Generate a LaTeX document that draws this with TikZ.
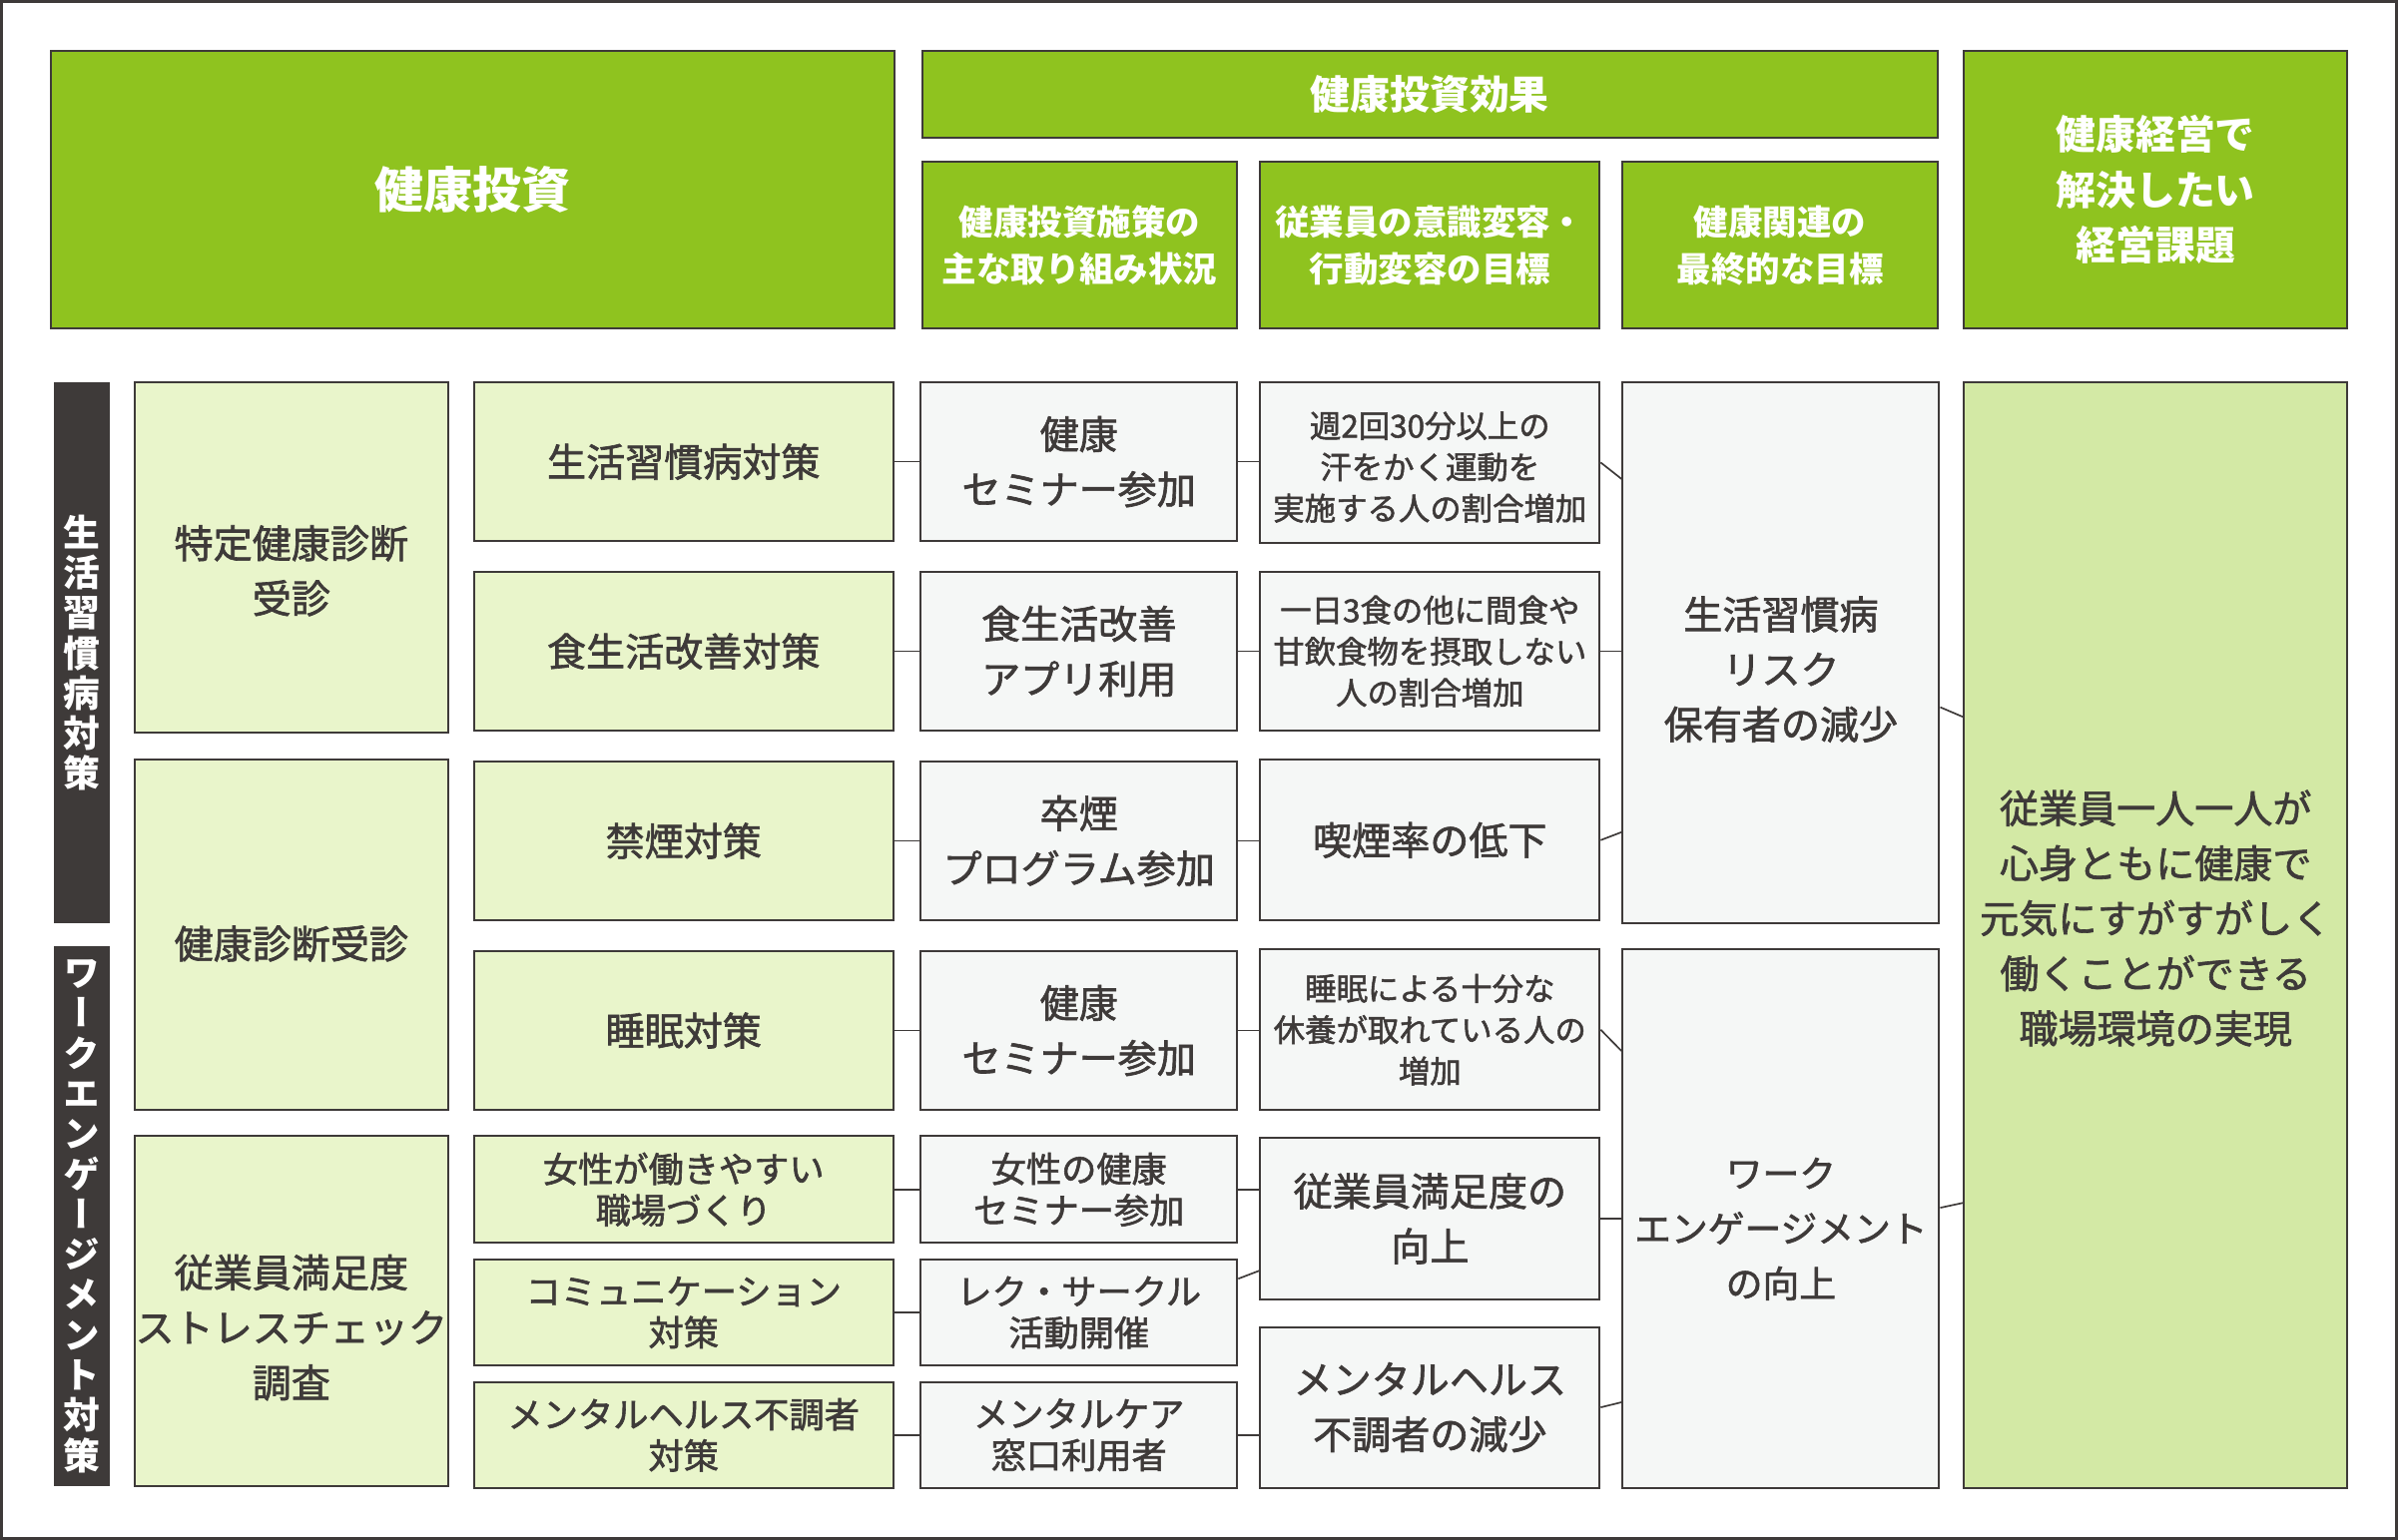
\documentclass[tikz,border=0pt]{standalone}
\usepackage{fontspec}
\setmainfont{Noto Sans CJK JP}
\newfontfamily\bodyjp{Noto Sans CJK JP}[FakeBold=1.6]
\newfontfamily\vertjp{Noto Sans CJK JP}[RawFeature=+vert]
\usetikzlibrary{calc}
\definecolor{leafgreen}{HTML}{8FC31F}
\definecolor{palegreen}{HTML}{E9F5CB}
\definecolor{softgreen}{HTML}{D3E9A5}
\definecolor{paper}{HTML}{F5F7F6}
\definecolor{ink}{HTML}{3E3A39}

\begin{document}
\begin{tikzpicture}[x=1pt, y=-1pt,
    every node/.style={align=center, inner sep=0pt, text=ink},
    head/.style={draw=ink, line width=1.3pt, fill=leafgreen, text=white,
                 font=\bfseries\fontsize{22.5}{31}\selectfont},
    sidebar/.style={fill=ink, text=white, minimum width=37pt,
                    font=\vertjp\bfseries\fontsize{24}{26.3}\selectfont},
    item/.style={draw=ink, line width=1.3pt, fill=palegreen},
    goal/.style={draw=ink, line width=1.3pt, fill=paper},
    big/.style={font=\bodyjp\fontsize{25.5}{36}\selectfont},
    small/.style={font=\bodyjp\fontsize{23}{27}\selectfont},
    tiny/.style={font=\bodyjp\fontsize{20.5}{27}\selectfont},
    link/.style={draw=ink, line width=1.1pt}
]
    \useasboundingbox (0,0) rectangle (1568,1007);
    \draw[ink, line width=2pt] (1,1) rectangle (1567,1006);

    \node[head, minimum width=552pt, minimum height=182pt,
          font=\bfseries\fontsize{32}{36}\selectfont] (inv) at (309,124) {健康投資};
    \node[head, minimum width=664pt, minimum height=57pt,
          font=\bfseries\fontsize{26}{36}\selectfont] (eff) at (935,61.5) {健康投資効果};
    \node[head, minimum width=206pt, minimum height=109pt] (h1) at (706,160.5)
        {健康投資施策の\\主な取り組み状況};
    \node[head, minimum width=222pt, minimum height=109pt] (h2) at (935,160.5)
        {従業員の意識変容・\\行動変容の目標};
    \node[head, minimum width=206pt, minimum height=109pt] (h3) at (1164,160.5)
        {健康関連の\\最終的な目標};
    \node[head, minimum width=251pt, minimum height=182pt,
          font=\bfseries\fontsize{26}{36}\selectfont] (issue) at (1409.5,124)
        {健康経営で\\解決したい\\経営課題};

    \node[sidebar, minimum height=354pt] (bar1) at (53.5,427)
        {生\\活\\習\\慣\\病\\対\\策};
    \node[sidebar, minimum height=353pt] (bar2) at (53.5,795.5)
        {ワ\\ー\\ク\\エ\\ン\\ゲ\\ー\\ジ\\メ\\ン\\ト\\対\\策};

    \node[item, big, minimum width=205pt, minimum height=229pt] (a1) at (190.5,364.5)
        {\rule{0pt}{39pt}特定健康診断\\受診};
    \node[item, big, minimum width=205pt, minimum height=229pt] (a2) at (190.5,611.5)
        {\rule{0pt}{33pt}健康診断受診};
    \node[item, big, minimum width=205pt, minimum height=229pt] (a3) at (190.5,857.5)
        {\rule{0pt}{43pt}従業員満足度\\ストレスチェック\\調査};

    \node[item, big, minimum width=274pt, minimum height=104pt] (b1) at (447,302) {生活習慣病対策};
    \node[item, big, minimum width=274pt, minimum height=104pt] (b2) at (447,426) {食生活改善対策};
    \node[item, big, minimum width=274pt, minimum height=104pt] (b3) at (447,550) {禁煙対策};
    \node[item, big, minimum width=274pt, minimum height=104pt] (b4) at (447,674) {睡眠対策};
    \node[item, small, minimum width=274pt, minimum height=70pt] (b5) at (447,778)
        {女性が働きやすい\\職場づくり};
    \node[item, small, minimum width=274pt, minimum height=69pt] (b6) at (447,858.5)
        {コミュニケーション\\対策};
    \node[item, small, minimum width=274pt, minimum height=69pt] (b7) at (447,938.5)
        {メンタルヘルス不調者\\対策};

    \node[goal, big, minimum width=207pt, minimum height=104pt] (c1) at (705.5,302)
        {健康\\セミナー参加};
    \node[goal, big, minimum width=207pt, minimum height=104pt] (c2) at (705.5,426)
        {食生活改善\\アプリ利用};
    \node[goal, big, minimum width=207pt, minimum height=104pt] (c3) at (705.5,550)
        {卒煙\\プログラム参加};
    \node[goal, big, minimum width=207pt, minimum height=104pt] (c4) at (705.5,674)
        {健康\\セミナー参加};
    \node[goal, small, minimum width=207pt, minimum height=70pt] (c5) at (705.5,778)
        {女性の健康\\セミナー参加};
    \node[goal, small, minimum width=207pt, minimum height=69pt] (c6) at (705.5,858.5)
        {レク・サークル\\活動開催};
    \node[goal, small, minimum width=207pt, minimum height=69pt] (c7) at (705.5,938.5)
        {メンタルケア\\窓口利用者};

    \node[goal, tiny, minimum width=222pt, minimum height=105pt] (d1) at (935,302.5)
        {\rule{0pt}{23pt}週2回30分以上の\\汗をかく運動を\\実施する人の割合増加};
    \node[goal, tiny, minimum width=222pt, minimum height=104pt] (d2) at (935,426)
        {一日3食の他に間食や\\甘飲食物を摂取しない\\人の割合増加};
    \node[goal, big, minimum width=222pt, minimum height=105pt] (d3) at (935,549.5)
        {喫煙率の低下};
    \node[goal, tiny, minimum width=222pt, minimum height=105pt] (d4) at (935,673.5)
        {睡眠による十分な\\休養が取れている人の\\増加};
    \node[goal, big, minimum width=222pt, minimum height=106pt] (d5) at (935,797)
        {従業員満足度の\\向上};
    \node[goal, big, minimum width=222pt, minimum height=105pt] (d6) at (935,920.5)
        {メンタルヘルス\\不調者の減少};

    \node[goal, big, minimum width=207pt, minimum height=354pt] (e1) at (1164.5,427)
        {\rule{0pt}{43pt}生活習慣病\\リスク\\保有者の減少};
    \node[goal, big, minimum width=207pt, minimum height=352pt,
          font=\bodyjp\fontsize{24}{36}\selectfont] (e2) at (1164.5,797)
        {\rule{0pt}{33pt}ワーク\\エンゲージメント\\の向上};

    \node[draw=ink, line width=1.3pt, fill=softgreen, big, minimum width=251pt,
          minimum height=723pt] (aim) at (1409.5,611.5)
        {従業員一人一人が\\心身ともに健康で\\元気にすがすがしく\\働くことができる\\職場環境の実現\rule[-24pt]{0pt}{24pt}};

    \foreach \i in {1,...,7}
        \draw[link] (b\i.east) -- (c\i.west);
    \foreach \i in {1,...,4}
        \draw[link] (c\i.east) -- (c\i.east -| d\i.west);
    \draw[link] (c5.east) -- (c5.east -| d5.west);
    \draw[link] (c6.12) -- (d5.197);
    \draw[link] (c7.east) -- (c7.east -| d6.west);

    \draw[link] (d1.east) -- ($(e1.north west)!0.18!(e1.south west)$);
    \draw[link] (d2.east) -- (d2.east -| e1.west);
    \draw[link] (d3.east) -- ($(e1.north west)!0.83!(e1.south west)$);
    \draw[link] (d4.east) -- ($(e2.north west)!0.19!(e2.south west)$);
    \draw[link] (d5.east) -- (d5.east -| e2.west);
    \draw[link] (d6.east) -- ($(e2.north west)!0.84!(e2.south west)$);

    \draw[link] ($(e1.north east)!0.6!(e1.south east)$) -- ($(aim.north west)!0.303!(aim.south west)$);
    \draw[link] ($(e2.north east)!0.48!(e2.south east)$) -- ($(aim.north west)!0.742!(aim.south west)$);
\end{tikzpicture}
\end{document}
